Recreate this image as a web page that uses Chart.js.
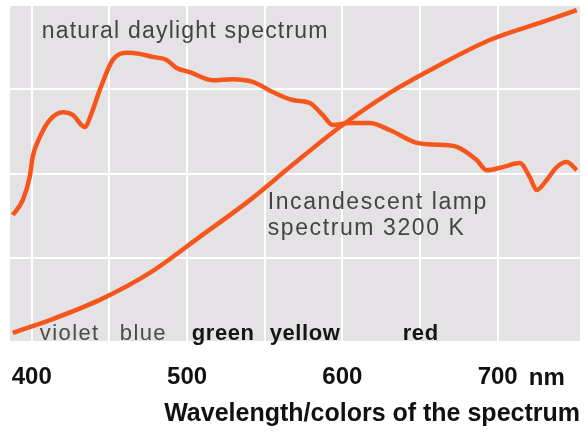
<!DOCTYPE html>
<html>
<head>
<meta charset="utf-8">
<script src="https://cdn.jsdelivr.net/npm/chart.js@4.4.1/dist/chart.umd.min.js"></script>
<style>
  html, body { margin: 0; padding: 0; background: #fff; }
  .wrap { width: 588px; height: 435px; position: relative; }
</style>
</head>
<body>
<div class="wrap"><canvas id="spectrumChart"></canvas></div>
<script>
// wavelengths (nm) and relative intensity
const daylightNm = [387.8, 394.2, 398.7, 400.6, 405.2, 411.6, 420.0, 426.4, 434.1, 438.6, 443.8, 452.2, 461.2, 469.5, 477.9, 486.9, 493.3, 501.7, 516.5, 529.4, 542.3, 555.1, 568.0, 579.0, 587.3, 593.8, 604.7, 617.6, 630.5, 647.9, 662.7, 673.6, 686.5, 692.9, 703.2, 714.2, 720.6, 725.1, 731.6, 738.0, 744.4, 750.9];
const daylightValues = [37.7, 42.1, 49.0, 54.9, 60.8, 65.9, 68.2, 67.4, 63.8, 68.0, 74.8, 83.7, 85.8, 85.5, 84.6, 83.7, 81.3, 80.1, 77.7, 78.0, 77.2, 74.2, 71.8, 70.9, 67.4, 64.4, 65.0, 65.0, 62.9, 59.1, 58.5, 57.9, 54.0, 51.0, 51.9, 53.1, 49.0, 45.1, 48.1, 51.9, 53.4, 51.0];

const lampNm = [387.8, 411.6, 443.8, 476.0, 508.2, 540.4, 566.2, 598.4, 630.5, 662.7, 694.9, 727.1, 750.9];
const lampValues = [2.7, 6.5, 12.5, 20.5, 31.2, 42.1, 51.9, 63.8, 73.9, 82.2, 89.6, 94.7, 98.5];

const tickLabels = [400, 500, 600, 700];
const colorNames = ["violet", "blue", "green", "yellow", "red"];

const lineColor = "#f4561b";
const plotGrey = "#e5e2e5";

// text placed in data coordinates (nm, value)
const notes = [
  { text: "natural daylight spectrum", x: 406.4, y: 90.2, font: "23px 'Liberation Sans', Arial, sans-serif", color: "#444", spacing: "1.2px" },
  { text: "Incandescent lamp", x: 551.9, y: 39.5, font: "23px 'Liberation Sans', Arial, sans-serif", color: "#444", spacing: "1.6px" },
  { text: "spectrum 3200 K", x: 551.9, y: 31.8, font: "23px 'Liberation Sans', Arial, sans-serif", color: "#444", spacing: "1.6px" },
];
const colorNamePos = [405.2, 456.7, 503.0, 553.2, 638.8];

function toPoints(xs, ys) {
  return xs.map((x, i) => ({ x: x, y: ys[i] }));
}

// grey plot background
const plotBackground = {
  id: "plotBackground",
  beforeDraw(chart) {
    const { ctx, chartArea } = chart;
    ctx.save();
    ctx.fillStyle = plotGrey;
    ctx.fillRect(chartArea.left, chartArea.top, chartArea.right - chartArea.left, chartArea.bottom - chartArea.top);
    ctx.restore();
  },
};

// labels inside the plot + the "nm" unit
const textLayer = {
  id: "textLayer",
  afterDraw(chart) {
    const { ctx, scales, chartArea } = chart;
    const xs = scales.x, ys = scales.y;
    ctx.save();
    ctx.textBaseline = "alphabetic";
    ctx.textAlign = "left";
    notes.forEach((n) => {
      ctx.font = n.font;
      ctx.fillStyle = n.color;
      ctx.letterSpacing = n.spacing;
      ctx.fillText(n.text, xs.getPixelForValue(n.x), ys.getPixelForValue(n.y));
    });
    colorNames.forEach((name, i) => {
      const bold = i >= 2;
      ctx.font = (bold ? "bold " : "") + "22px 'Liberation Sans', Arial, sans-serif";
      ctx.fillStyle = bold ? "#151515" : "#4a4a4a";
      ctx.letterSpacing = bold ? "0.6px" : "1.4px";
      ctx.fillText(name, xs.getPixelForValue(colorNamePos[i]), chartArea.bottom - 2);
    });
    ctx.letterSpacing = "0px";
    ctx.font = "bold 24px 'Liberation Sans', Arial, sans-serif";
    ctx.fillStyle = "#111";
    ctx.textAlign = "center";
    ctx.textBaseline = "middle";
    ctx.fillText("nm", xs.getPixelForValue(731.6), chartArea.bottom + 36);
    ctx.restore();
  },
};

const ctx = document.getElementById("spectrumChart").getContext("2d");
new Chart(ctx, {
  type: "line",
  data: {
    datasets: [
      {
        label: "natural daylight spectrum",
        data: toPoints(daylightNm, daylightValues),
        borderColor: lineColor,
        borderWidth: 4.5,
        pointRadius: 0,
        cubicInterpolationMode: "monotone",
      },
      {
        label: "Incandescent lamp spectrum 3200 K",
        data: toPoints(lampNm, lampValues),
        borderColor: lineColor,
        borderWidth: 4.5,
        pointRadius: 0,
        cubicInterpolationMode: "monotone",
      },
    ],
  },
  options: {
    responsive: true,
    maintainAspectRatio: false,
    animation: false,
    layout: { autoPadding: false, padding: { left: 10, right: 8, top: 5, bottom: 6 } },
    plugins: {
      legend: { display: false },
      tooltip: { enabled: false },
    },
    scales: {
      x: {
        type: "linear",
        min: 386,
        max: 753,
        border: { display: false },
        afterFit: (scale) => {
          scale.height = 87;
          scale.paddingLeft = 0;
          scale.paddingRight = 0;
        },
        grid: {
          drawTicks: false,
          lineWidth: 2,
          color: (c) => (c.tick && c.tick.value < 750 ? "#ffffff" : "rgba(0,0,0,0)"),
        },
        ticks: {
          stepSize: 50,
          includeBounds: false,
          maxRotation: 0,
          autoSkip: false,
          padding: 21,
          color: "#111",
          font: { family: "'Liberation Sans', Arial, sans-serif", size: 24, weight: "bold" },
          callback: (v) => (tickLabels.includes(v) ? String(v) : ""),
        },
        title: {
          display: true,
          text: "Wavelength/colors of the spectrum",
          align: "end",
          color: "#111",
          padding: { top: 9, bottom: 0 },
          font: { family: "'Liberation Sans', Arial, sans-serif", size: 25, weight: "bold" },
        },
      },
      y: {
        min: 0,
        max: 100,
        border: { display: false },
        afterFit: (scale) => {
          scale.width = 0;
          scale.paddingTop = 0;
          scale.paddingBottom = 0;
        },
        grid: { drawTicks: false, lineWidth: 2, color: "#ffffff" },
        ticks: { display: false, stepSize: 25 },
      },
    },
  },
  plugins: [plotBackground, textLayer],
});
</script>
</body>
</html>
